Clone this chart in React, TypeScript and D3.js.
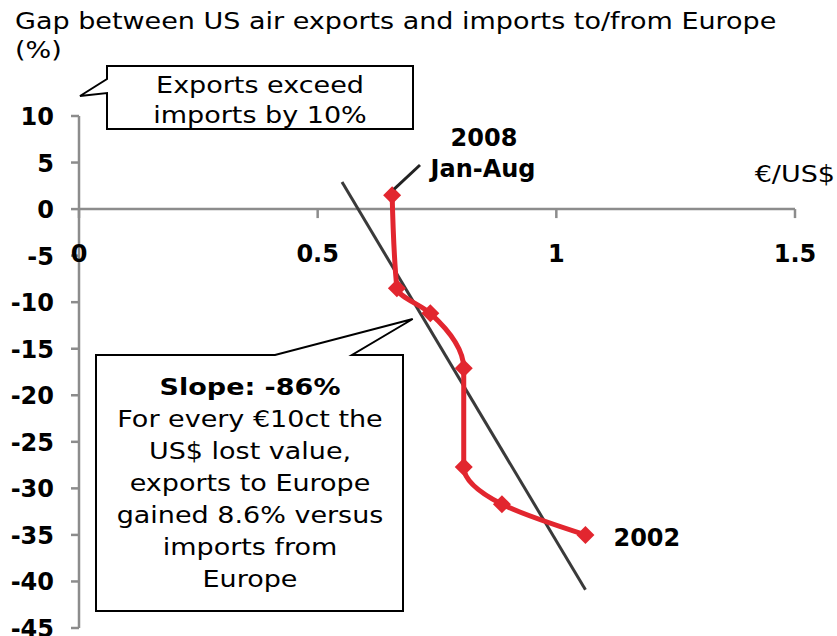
import React from "react";
import * as d3 from "d3";

const years = ["2002", "2003", "2004", "2005", "2006", "2007", "2008 Jan-Aug"];
const eurPerUsd = [1.061, 0.886, 0.806, 0.806, 0.736, 0.666, 0.656];
const gapPct = [-35.0, -31.7, -27.7, -17.1, -11.2, -8.5, 1.5];
const trendX = [0.551, 1.061];
const trendY = [2.9, -40.9];
const xTicks = [0, 0.5, 1, 1.5];
const yTicks = [10, 5, 0, -5, -10, -15, -20, -25, -30, -35, -40, -45];
const slopeLines = [
  "For every €10ct the",
  "US$ lost value,",
  "exports to Europe",
  "gained 8.6% versus",
  "imports from",
  "Europe",
];

const W = 837;
const H = 636;
const FONT = "DejaVu Sans, Verdana, sans-serif";
const NSX = 1.2; // horizontal stretch of regular text
const NSIZE = 22.5;
const BSX = 0.96; // horizontal scale of bold axis labels
const BSIZE = 25;

type TP = {
  x: number;
  y: number;
  sx: number;
  size: number;
  bold?: boolean;
  anchor?: "start" | "middle" | "end";
  children: React.ReactNode;
};
function T({ x, y, sx, size, bold, anchor = "start", children }: TP) {
  return (
    <text
      transform={`translate(${x},${y}) scale(${sx},1)`}
      fontSize={size}
      fontWeight={bold ? "bold" : "normal"}
      textAnchor={anchor}
      fill="#000"
    >
      {children}
    </text>
  );
}

export default function App() {
  const x = d3.scaleLinear().domain([0, 1.5]).range([79, 795]);
  const y = d3.scaleLinear().domain([10, -45]).range([116, 628]);
  const pts = eurPerUsd.map((v, i) => [x(v), y(gapPct[i])] as [number, number]);
  const line = d3.line().curve(d3.curveMonotoneY)(pts) || "";
  const trend = d3.line()(trendX.map((v, i) => [x(v), y(trendY[i])] as [number, number])) || "";
  const axisColor = "#8c8c8c";
  const red = "#e2262f";
  const ds = 9;
  const p2008 = pts[pts.length - 1];
  const p2002 = pts[0];

  return (
    <svg width={W} height={H} style={{ position: "absolute", left: 0, top: 0 }} fontFamily={FONT}>
      <rect width={W} height={H} fill="#fff" />
      <T x={15} y={29} sx={NSX} size={NSIZE}>
        Gap between US air exports and imports to/from Europe
      </T>
      <T x={15} y={58} sx={NSX} size={NSIZE}>(%)</T>

      {/* axes */}
      <line x1={x(0)} x2={x(0)} y1={y(10)} y2={y(-45)} stroke={axisColor} strokeWidth={2.5} />
      <line x1={x(0)} x2={x(1.5)} y1={y(0)} y2={y(0)} stroke={axisColor} strokeWidth={2.5} />
      {yTicks.map((t) => (
        <g key={"y" + t}>
          <line x1={x(0) - 8} x2={x(0)} y1={y(t)} y2={y(t)} stroke={axisColor} strokeWidth={2.5} />
          <T x={54} y={y(t) + 9} sx={BSX} size={BSIZE} bold anchor="end">
            {t}
          </T>
        </g>
      ))}
      {xTicks.map((t) => (
        <g key={"x" + t}>
          <line x1={x(t)} x2={x(t)} y1={y(0)} y2={y(0) + 9} stroke={axisColor} strokeWidth={2.5} />
          <T x={x(t)} y={262} sx={BSX} size={BSIZE} bold anchor="middle">
            {t}
          </T>
        </g>
      ))}
      <T x={835} y={182} sx={NSX} size={NSIZE} anchor="end">€/US$</T>

      {/* trend line */}
      <path d={trend} stroke="#3a3a3a" strokeWidth={3} fill="none" />

      {/* data line */}
      <path d={line} stroke={red} strokeWidth={5} fill="none" strokeLinejoin="round" />
      {pts.map((p, i) => (
        <path
          key={years[i]}
          d={`M${p[0]},${p[1] - ds}L${p[0] + ds},${p[1]}L${p[0]},${p[1] + ds}L${p[0] - ds},${p[1]}Z`}
          fill={red}
        />
      ))}

      {/* labels */}
      <line x1={p2008[0] + 2} y1={p2008[1] - 6} x2={420} y2={165} stroke="#222" strokeWidth={3} />
      <T x={484} y={146} sx={BSX} size={BSIZE} bold anchor="middle">2008</T>
      <T x={483} y={177} sx={BSX} size={BSIZE} bold anchor="middle">Jan-Aug</T>
      <T x={p2002[0] + 28} y={546} sx={BSX} size={BSIZE} bold>2002</T>

      {/* callout 1 */}
      <path
        d="M107,66 L413,66 L413,129 L107,129 L107,93 L80,96 L107,79 Z"
        fill="#fff"
        stroke="#000"
        strokeWidth={2}
      />
      <T x={260} y={93} sx={NSX} size={NSIZE} anchor="middle">Exports exceed</T>
      <T x={260} y={123} sx={NSX} size={NSIZE} anchor="middle">imports by 10%</T>

      {/* callout 2 */}
      <path
        d="M96,355 L275,355 L412.7,319 L352,355 L403,355 L403,611 L96,611 Z"
        fill="#fff"
        stroke="#000"
        strokeWidth={2}
      />
      <T x={250} y={395} sx={NSX} size={NSIZE} bold anchor="middle">Slope: -86%</T>
      {slopeLines.map((s, i) => (
        <T key={s} x={250} y={427 + i * 32} sx={NSX} size={NSIZE} anchor="middle">
          {s}
        </T>
      ))}
    </svg>
  );
}
